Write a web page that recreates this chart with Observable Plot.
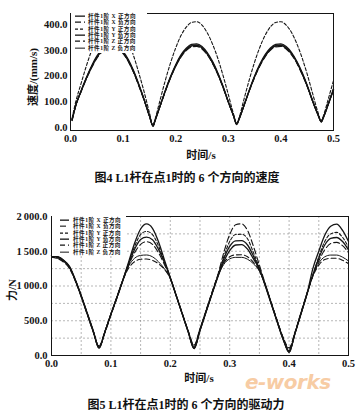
<!DOCTYPE html>
<html>
<head>
<meta charset="utf-8">
<script src="https://cdn.jsdelivr.net/npm/d3@7"></script>
<script src="https://cdn.jsdelivr.net/npm/@observablehq/plot@0.6"></script>
<style>
  html, body { margin: 0; padding: 0; background: #fff; }
  #wrap { position: relative; width: 363px; height: 410px; overflow: hidden; background: #fff; color: #111; }
  .abs { position: absolute; }
  .cjk { font-family: "Liberation Serif", "Noto Sans CJK SC", serif; font-weight: bold; color: #111; white-space: nowrap; }
  .cap { font-size: 12px; transform: translateX(-50%); }
  .axt { font-size: 11px; transform: translate(-50%, -50%); }
  .axty { font-size: 11px; transform: translate(-50%, -50%) rotate(-90deg); }
  .legend { background: #fff; }
  .lrow { position: absolute; left: 0; white-space: nowrap; font-family: "Liberation Serif", "Noto Sans CJK SC", serif; font-weight: bold; font-size: 5.6px; letter-spacing: 0.5px; color: #151515; }
  .lrow svg { position: absolute; left: 0; top: 0; }
  .lrow span { position: absolute; top: 0; }
  #wm { font-family: "DejaVu Sans", sans-serif; font-style: italic; font-weight: bold; font-size: 20px; line-height: 20px; color: #f2a35a; opacity: 0.55; letter-spacing: -0.5px; }
</style>
</head>
<body>
<div id="wrap"></div>
<script>
// ---------------- DATA ----------------
const seriesNames = ["杆件1阶 X 正方向", "杆件1阶 X 负方向", "杆件1阶 Y 正方向", "杆件1阶 Y 负方向", "杆件1阶 Z 正方向", "杆件1阶 Z 负方向"];

// Figure 4: velocity (mm/s) vs time (s)
const velTime = [0.003, 0.01, 0.02, 0.03, 0.04, 0.05, 0.06, 0.07, 0.08, 0.09, 0.10, 0.11, 0.12, 0.13, 0.14, 0.15,
  0.157, 0.16, 0.17, 0.18, 0.19, 0.20, 0.21, 0.22, 0.23, 0.24, 0.25, 0.26, 0.27, 0.28, 0.29, 0.30, 0.31,
  0.316, 0.32, 0.33, 0.34, 0.35, 0.36, 0.37, 0.38, 0.39, 0.40, 0.41, 0.42, 0.43, 0.44, 0.45, 0.46, 0.47,
  0.477, 0.48, 0.49, 0.50];
const velXPos = [28, 85, 140, 190, 235, 272, 298, 315, 320, 311, 291, 259, 216, 164, 107, 45, 5, 22, 81, 140, 194, 240, 277, 303, 317, 319, 309, 286, 252, 209, 157, 99, 45, 12, 30, 86, 144, 197, 242, 278, 304, 317, 319, 309, 287, 254, 211, 161, 104, 52, 22, 35, 90, 148];
const velXNeg = [30, 84, 138, 187, 231, 268, 294, 311, 316, 307, 287, 255, 213, 161, 105, 44, 6, 23, 80, 138, 191, 237, 273, 299, 313, 315, 305, 282, 249, 206, 155, 98, 45, 14, 31, 85, 142, 194, 239, 274, 300, 313, 315, 305, 283, 251, 208, 159, 103, 53, 24, 37, 91, 150];
const velYPos = [35, 100, 170, 238, 298, 345, 382, 405, 412, 400, 374, 333, 278, 211, 138, 58, 6, 26, 104, 181, 250, 309, 357, 390, 408, 411, 398, 368, 324, 269, 202, 128, 52, 14, 34, 111, 186, 254, 312, 358, 391, 408, 411, 398, 370, 327, 272, 207, 134, 62, 24, 40, 110, 182];
const velYNeg = [27, 86, 142, 193, 239, 277, 304, 321, 326, 317, 296, 264, 220, 167, 109, 46, 4, 21, 82, 142, 197, 244, 282, 308, 323, 325, 315, 291, 257, 213, 160, 101, 44, 11, 29, 87, 146, 200, 246, 283, 309, 323, 325, 315, 292, 258, 215, 164, 106, 51, 21, 34, 89, 146];
const velZPos = [32, 86, 140, 190, 234, 271, 297, 314, 319, 310, 290, 258, 215, 163, 106, 46, 7, 24, 82, 140, 193, 239, 276, 302, 316, 318, 308, 285, 251, 208, 157, 100, 47, 15, 32, 87, 144, 196, 241, 277, 303, 316, 318, 308, 286, 253, 210, 161, 105, 54, 25, 38, 92, 152];
const velZNeg = [29, 85, 141, 191, 236, 273, 300, 317, 322, 313, 293, 261, 218, 165, 108, 45, 5, 22, 81, 141, 195, 241, 279, 305, 319, 321, 311, 288, 254, 211, 158, 99, 44, 12, 30, 86, 145, 198, 243, 280, 306, 319, 321, 311, 289, 256, 212, 162, 104, 52, 22, 35, 90, 147];
const velTicks = [0, 100, 200, 300, 400];

// Figure 5: driving force (N) vs time (s)
const forceTime = [0, 0.01, 0.02, 0.03, 0.04, 0.05, 0.06, 0.07, 0.08, 0.09, 0.10, 0.11, 0.12, 0.13, 0.14, 0.15, 0.16,
  0.17, 0.18, 0.19, 0.20, 0.21, 0.22, 0.23, 0.24, 0.25, 0.26, 0.27, 0.28, 0.29, 0.30, 0.31, 0.32,
  0.33, 0.34, 0.35, 0.36, 0.37, 0.38, 0.39, 0.40, 0.41, 0.42, 0.43, 0.44, 0.45, 0.46, 0.47, 0.48, 0.49, 0.50];
const forceXPos = [1440, 1420, 1370, 1280, 1080, 850, 600, 350, 110, 340, 590, 830, 1080, 1350, 1620, 1820, 1893, 1830, 1640, 1380, 1120, 860, 600, 340, 100, 360, 620, 880, 1130, 1350, 1510, 1590, 1595, 1530, 1390, 1240, 1000, 740, 480, 230, 60, 320, 600, 880, 1250, 1500, 1730, 1860, 1890, 1800, 1640];
const forceXNeg = [1430, 1410, 1360, 1270, 1090, 860, 610, 360, 130, 330, 580, 820, 1070, 1300, 1480, 1600, 1638, 1600, 1480, 1310, 1110, 860, 610, 360, 140, 380, 640, 900, 1160, 1480, 1740, 1880, 1895, 1800, 1570, 1300, 1030, 760, 500, 250, 90, 330, 610, 890, 1150, 1360, 1520, 1610, 1628, 1580, 1480];
const forceYPos = [1420, 1400, 1355, 1265, 1085, 855, 605, 355, 120, 340, 590, 830, 1080, 1330, 1570, 1740, 1785, 1740, 1580, 1350, 1115, 860, 600, 345, 120, 370, 630, 890, 1145, 1420, 1640, 1740, 1745, 1680, 1480, 1260, 1010, 750, 490, 240, 70, 325, 605, 885, 1160, 1420, 1640, 1750, 1772, 1700, 1560];
const forceYNeg = [1445, 1425, 1375, 1285, 1095, 865, 615, 365, 115, 345, 595, 835, 1085, 1320, 1530, 1670, 1702, 1665, 1530, 1340, 1120, 865, 605, 350, 110, 365, 625, 885, 1140, 1390, 1570, 1650, 1652, 1590, 1430, 1240, 1005, 745, 485, 235, 50, 320, 600, 880, 1160, 1400, 1590, 1685, 1698, 1640, 1520];
const forceZPos = [1415, 1395, 1345, 1255, 1075, 845, 595, 345, 140, 350, 600, 840, 1080, 1260, 1350, 1385, 1388, 1370, 1320, 1240, 1105, 855, 600, 350, 150, 385, 645, 905, 1150, 1330, 1420, 1448, 1450, 1420, 1340, 1220, 1020, 760, 500, 260, 110, 340, 620, 895, 1140, 1300, 1380, 1400, 1398, 1370, 1320];
const forceZNeg = [1435, 1415, 1365, 1275, 1090, 860, 610, 360, 100, 345, 595, 835, 1085, 1290, 1400, 1440, 1446, 1420, 1350, 1250, 1110, 860, 605, 350, 95, 360, 620, 880, 1140, 1310, 1390, 1412, 1412, 1385, 1320, 1215, 1010, 750, 490, 240, 40, 320, 600, 880, 1150, 1330, 1420, 1445, 1445, 1415, 1360];
const forceTicks = [0, 500, 1000, 1500, 2000];
const forceGrid = [250, 500, 750, 1000, 1250, 1500, 1750];

const timeTicks = [0, 0.1, 0.2, 0.3, 0.4, 0.5];
const timeGrid = [0.05, 0.1, 0.15, 0.2, 0.25, 0.3, 0.35, 0.4, 0.45];

// text
const cap4 = "图4  L1杆在点1时的 6 个方向的速度";
const cap5 = "图5  L1杆在点1时的 6 个方向的驱动力";
const xTitle = "时间/s";
const yTitle4 = "速度/(mm/s)";
const yTitle5 = "力/N";

// ---------------- STYLES ----------------
const dashes = [null, "6,3", "3,2", null, "5,3", null];
const widths = [1.3, 1.1, 1.1, 1.3, 1.1, 1.0];
const ink = "#151515";

// ---------------- BUILD ----------------
const velSeries = [velXPos, velXNeg, velYPos, velYNeg, velZPos, velZNeg];
const forceSeries = [forceXPos, forceXNeg, forceYPos, forceYNeg, forceZPos, forceZNeg];
const velRows = seriesNames.map((s, i) => velTime.map((t, j) => ({s, t, v: velSeries[i][j]})));
const forceRows = seriesNames.map((s, i) => forceTime.map((t, j) => ({s, t, v: forceSeries[i][j]})));

const wrap = document.getElementById("wrap");
const fontStyle = {fontFamily: "'Liberation Serif', 'Noto Sans CJK SC', serif", fontSize: "10.5px", fontWeight: "bold", color: ink, background: "transparent", overflow: "visible"};

function lines(rows) {
  return rows.map((r, i) => Plot.line(r, {x: "t", y: "v", stroke: ink, strokeWidth: widths[i], strokeDasharray: dashes[i], curve: "monotone-x"}));
}

// Figure 4
const p4 = Plot.plot({
  width: 363, height: 165,
  marginLeft: 70, marginRight: 30, marginTop: 13, marginBottom: 35,
  style: fontStyle,
  x: {domain: [0, 0.5]},
  y: {domain: [-12, 443]},
  marks: [
    ...lines(velRows),
    Plot.frame({stroke: ink, strokeWidth: 1}),
    Plot.axisX({ticks: timeTicks, tickFormat: d3.format(".1f"), tickSize: 0, tickPadding: 4, label: null}),
    Plot.axisY({ticks: velTicks, tickFormat: d3.format(".1f"), tickSize: 0, tickPadding: 3, label: null})
  ]
});
p4.style.position = "absolute"; p4.style.left = "0px"; p4.style.top = "0px";
wrap.appendChild(p4);

// Figure 5
const fmtForce = d => d3.format(",.1f")(d).replace(",", "\u2009");
const p5 = Plot.plot({
  width: 363, height: 185,
  marginLeft: 51, marginRight: 15, marginTop: 16, marginBottom: 30,
  style: fontStyle,
  x: {domain: [0, 0.5]},
  y: {domain: [0, 2000]},
  marks: [
    Plot.gridX({ticks: timeGrid, stroke: "#666", strokeOpacity: 0.6, strokeDasharray: "2,2", strokeWidth: 0.8}),
    Plot.gridY({ticks: forceGrid, stroke: "#666", strokeOpacity: 0.6, strokeDasharray: "2,2", strokeWidth: 0.8}),
    ...lines(forceRows),
    Plot.frame({stroke: ink, strokeWidth: 1}),
    Plot.axisX({ticks: timeTicks, tickFormat: d3.format(".1f"), tickSize: 0, tickPadding: 4, label: null}),
    Plot.axisY({ticks: forceTicks, tickFormat: fmtForce, tickSize: 0, tickPadding: 4, label: null})
  ]
});
p5.style.position = "absolute"; p5.style.left = "0px"; p5.style.top = "200px";
wrap.appendChild(p5);

// Legends (HTML overlays, one row per series)
function legend(left, top, w, h, rowH, pad, lineX0, lineX1, textX) {
  const div = document.createElement("div");
  div.className = "abs legend";
  Object.assign(div.style, {left: left + "px", top: top + "px", width: w + "px", height: h + "px"});
  seriesNames.forEach((name, i) => {
    const row = document.createElement("div");
    row.className = "lrow";
    Object.assign(row.style, {top: (pad + i * rowH) + "px", height: rowH + "px", lineHeight: rowH + "px", width: w + "px"});
    const svg = d3.select(row).append("svg").attr("width", lineX1 + 1).attr("height", rowH);
    svg.append("line").attr("x1", lineX0).attr("x2", lineX1).attr("y1", rowH / 2).attr("y2", rowH / 2)
      .attr("stroke", ink).attr("stroke-width", widths[i]).attr("stroke-dasharray", dashes[i]);
    const sp = document.createElement("span");
    sp.style.left = textX + "px";
    sp.textContent = name;
    row.appendChild(sp);
    div.appendChild(row);
  });
  wrap.appendChild(div);
}
legend(71, 12, 76, 41, 6.3, 1, 4, 14, 17);
legend(52, 216, 74, 40, 6.3, 1, 8, 17, 21);

// Text: titles and captions
function addText(cls, txt, x, y) {
  const el = document.createElement("div");
  el.className = "abs cjk " + cls;
  el.textContent = txt;
  el.style.left = x + "px"; el.style.top = y + "px";
  wrap.appendChild(el);
  return el;
}
addText("axt", xTitle, 201, 154);
addText("axty", yTitle4, 32, 77);
addText("cap", cap4, 187, 168);
addText("axt", xTitle, 199, 377);
addText("axty", yTitle5, 11, 290);
addText("cap", cap5, 186, 394.5);

// Watermark
const wm = document.createElement("div");
wm.id = "wm"; wm.className = "abs"; wm.textContent = "e-works";
wm.style.left = "245px"; wm.style.top = "372px";
wrap.appendChild(wm);
</script>
</body>
</html>
